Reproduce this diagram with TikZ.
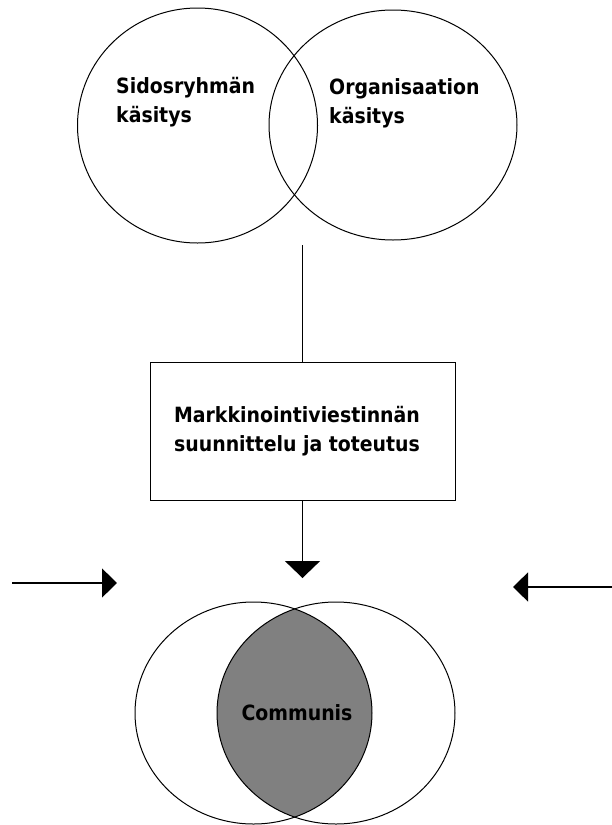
\documentclass[tikz,border=0pt]{standalone}
\usepackage{fontspec}
\usetikzlibrary{arrows.meta,shapes.geometric}
\newfontfamily\lblfont{DejaVu Sans Condensed}
\definecolor{lensgray}{RGB}{128,128,128}
\begin{document}
\begin{tikzpicture}[x=1pt,y=-1pt,
  outline/.style={draw=black,line width=1pt},
  lbl/.style={font=\lblfont\bfseries\fontsize{21}{29}\selectfont,inner sep=0pt,align=left},
  flow/.style={line width=1.3pt,-{Triangle[width=35pt,length=17pt]}},
  sideflow/.style={line width=1.3pt,-{Triangle[width=29pt,length=15pt]}},
]
\useasboundingbox[fill=white] (0,0) rectangle (612,825);

% two overlapping views at the top
\node[outline,ellipse,minimum width=240pt,minimum height=235pt,inner sep=0pt] (sid) at (197.5,125.5) {};
\node[outline,ellipse,minimum width=248pt,minimum height=230pt,inner sep=0pt] (org) at (393,125) {};
% the base anchor of a two-line label sits on its last line
\node[lbl,anchor=base west] (sidtxt) at (116,122) {Sidosryhmän\\käsitys};
\node[lbl,anchor=base west] (orgtxt) at (329,123) {Organisaation\\käsitys};

% planning box
\node[outline,minimum width=305pt,minimum height=138pt] (plan) at (302.5,431) {};
\node[lbl,align=center] (plantxt) at (297,431) {Markkinointiviestinnän\\suunnittelu ja toteutus};

\coordinate (venn) at (302.5,245);
\draw[line width=1pt] (venn) -- (plan.north);

% arrows towards the shared area
\coordinate (aim) at (302.5,578);
\draw[flow] (plan.south) -- (aim);
\coordinate (lfrom) at (12,583);
\coordinate (lto) at (117,583);
\draw[sideflow] (lfrom) -- (lto);
\coordinate (rfrom) at (612,587);
\coordinate (rto) at (513,587);
\draw[sideflow] (rfrom) -- (rto);

% overlapping ellipses with the shared lens
\coordinate (lc) at (253.5,713);
\coordinate (rc) at (336,713);
\begin{scope}
  \clip (lc) ellipse [x radius=118.5pt,y radius=111pt];
  \fill[lensgray] (rc) ellipse [x radius=119pt,y radius=111pt];
\end{scope}
\draw[outline] (lc) ellipse [x radius=118.5pt,y radius=111pt];
\draw[outline] (rc) ellipse [x radius=119pt,y radius=111pt];
\node[lbl] (comm) at (297,713) {Communis};
\end{tikzpicture}
\end{document}
